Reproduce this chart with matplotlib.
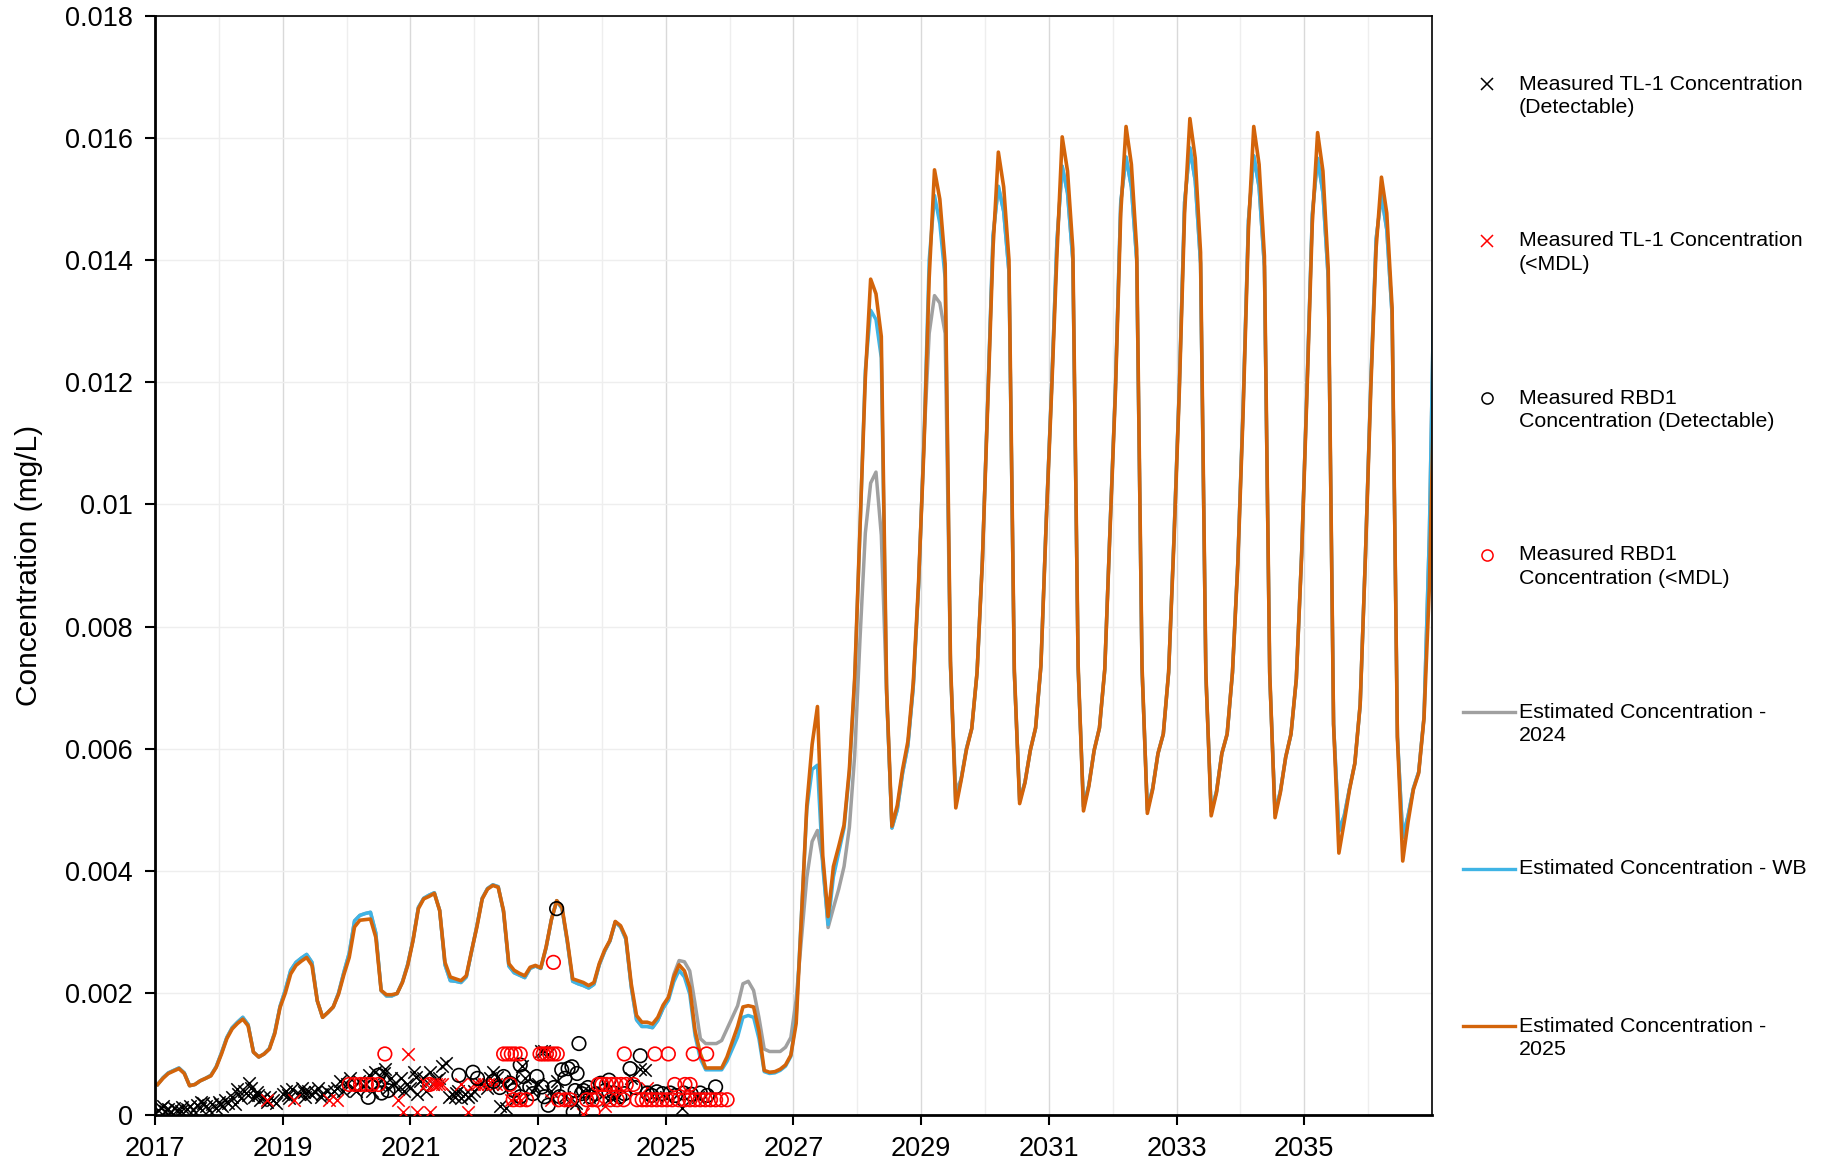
import matplotlib
matplotlib.use("Agg")
import matplotlib.pyplot as plt
from matplotlib.lines import Line2D
from matplotlib.ticker import FuncFormatter, MultipleLocator
import numpy as np

plt.rcParams['font.family'] = ['Liberation Sans', 'DejaVu Sans']

# ---------------- data (monthly values, Jan 2017 .. Jan 2037) ----------------
start_year = 2017

est_2025 = [
    0.00050, 0.00060, 0.00068, 0.00072, 0.00076, 0.00068, 0.00048, 0.00050, 0.00056, 0.00060, 0.00064, 0.00078,  # 2017
    0.00100, 0.00125, 0.00141, 0.00150, 0.00157, 0.00146, 0.00103, 0.00095, 0.00100, 0.00108, 0.00133, 0.00176,  # 2018
    0.00200, 0.00231, 0.00245, 0.00252, 0.00258, 0.00245, 0.00187, 0.00160, 0.00168, 0.00177, 0.00198, 0.00230,  # 2019
    0.00258, 0.00308, 0.00319, 0.00320, 0.00321, 0.00291, 0.00204, 0.00197, 0.00197, 0.00199, 0.00217, 0.00245,  # 2020
    0.00286, 0.00338, 0.00354, 0.00358, 0.00363, 0.00335, 0.00250, 0.00226, 0.00223, 0.00220, 0.00228, 0.00269,  # 2021
    0.00308, 0.00354, 0.00370, 0.00376, 0.00373, 0.00335, 0.00248, 0.00237, 0.00232, 0.00228, 0.00242, 0.00245,  # 2022
    0.00241, 0.00275, 0.00320, 0.00351, 0.00340, 0.00286, 0.00223, 0.00220, 0.00217, 0.00212, 0.00217, 0.00248,  # 2023
    0.00270, 0.00286, 0.00317, 0.00310, 0.00291, 0.00215, 0.00163, 0.00152, 0.00152, 0.00149, 0.00160, 0.00180,  # 2024
    0.00193, 0.00226, 0.00246, 0.00236, 0.00209, 0.00138, 0.00100, 0.00077, 0.00077, 0.00077, 0.00077, 0.00095,  # 2025
    0.00120, 0.00145, 0.00177, 0.00179, 0.00177, 0.00138, 0.00073, 0.00070, 0.00071, 0.00075, 0.00082, 0.00098,  # 2026
    0.00150, 0.00325, 0.00507, 0.00607, 0.00669, 0.00425, 0.00325, 0.00407, 0.00440, 0.00475, 0.00566, 0.00716,  # 2027
    0.00962, 0.01207, 0.01369, 0.01345, 0.01275, 0.00698, 0.00473, 0.00507, 0.00566, 0.00612, 0.00707, 0.00871,  # 2028
    0.01089, 0.01371, 0.01548, 0.01500, 0.01394, 0.00744, 0.00503, 0.00548, 0.00598, 0.00633, 0.00725, 0.00907,  # 2029
    0.01162, 0.01420, 0.01577, 0.01520, 0.01400, 0.00730, 0.00510, 0.00544, 0.00597, 0.00634, 0.00736, 0.00970,  # 2030
    0.01183, 0.01407, 0.01602, 0.01546, 0.01418, 0.00736, 0.00498, 0.00538, 0.00597, 0.00634, 0.00730, 0.00960,  # 2031
    0.01183, 0.01477, 0.01619, 0.01557, 0.01418, 0.00736, 0.00494, 0.00533, 0.00592, 0.00624, 0.00725, 0.00938,  # 2032
    0.01183, 0.01477, 0.01632, 0.01567, 0.01413, 0.00725, 0.00490, 0.00528, 0.00592, 0.00624, 0.00725, 0.00900,  # 2033
    0.01151, 0.01450, 0.01619, 0.01557, 0.01407, 0.00725, 0.00487, 0.00528, 0.00586, 0.00624, 0.00714, 0.00917,  # 2034
    0.01183, 0.01460, 0.01609, 0.01546, 0.01386, 0.00640, 0.00429, 0.00480, 0.00533, 0.00576, 0.00672, 0.00917,  # 2035
    0.01190, 0.01420, 0.01536, 0.01477, 0.01322, 0.00618, 0.00416, 0.00480, 0.00533, 0.00560, 0.00650, 0.00864,  # 2036
    0.01240,                                                                                                     # 2037
]

est_wb = [
    0.00050, 0.00061, 0.00069, 0.00073, 0.00077, 0.00069, 0.00048, 0.00050, 0.00056, 0.00060, 0.00065, 0.00079,  # 2017
    0.00102, 0.00127, 0.00143, 0.00152, 0.00160, 0.00148, 0.00103, 0.00095, 0.00100, 0.00109, 0.00135, 0.00178,  # 2018
    0.00205, 0.00237, 0.00250, 0.00257, 0.00263, 0.00250, 0.00187, 0.00160, 0.00168, 0.00177, 0.00200, 0.00234,  # 2019
    0.00265, 0.00318, 0.00327, 0.00330, 0.00332, 0.00298, 0.00204, 0.00195, 0.00195, 0.00199, 0.00218, 0.00247,  # 2020
    0.00287, 0.00340, 0.00355, 0.00360, 0.00364, 0.00335, 0.00246, 0.00220, 0.00219, 0.00217, 0.00226, 0.00268,  # 2021
    0.00310, 0.00355, 0.00371, 0.00377, 0.00374, 0.00333, 0.00244, 0.00233, 0.00229, 0.00225, 0.00240, 0.00244,  # 2022
    0.00240, 0.00274, 0.00320, 0.00351, 0.00338, 0.00283, 0.00219, 0.00215, 0.00212, 0.00208, 0.00214, 0.00246,  # 2023
    0.00268, 0.00285, 0.00316, 0.00308, 0.00288, 0.00210, 0.00156, 0.00145, 0.00145, 0.00143, 0.00155, 0.00175,  # 2024
    0.00188, 0.00218, 0.00237, 0.00226, 0.00198, 0.00130, 0.00092, 0.00074, 0.00074, 0.00074, 0.00074, 0.00088,  # 2025
    0.00108, 0.00128, 0.00160, 0.00163, 0.00160, 0.00125, 0.00071, 0.00068, 0.00069, 0.00073, 0.00080, 0.00096,  # 2026
    0.00160, 0.00330, 0.00500, 0.00566, 0.00573, 0.00407, 0.00312, 0.00390, 0.00430, 0.00470, 0.00560, 0.00712,  # 2027
    0.00960, 0.01220, 0.01318, 0.01303, 0.01240, 0.00690, 0.00470, 0.00500, 0.00560, 0.00605, 0.00700, 0.00865,  # 2028
    0.01100, 0.01400, 0.01506, 0.01460, 0.01370, 0.00735, 0.00510, 0.00550, 0.00600, 0.00633, 0.00725, 0.00910,  # 2029
    0.01170, 0.01440, 0.01521, 0.01480, 0.01380, 0.00725, 0.00515, 0.00545, 0.00597, 0.00634, 0.00736, 0.00975,  # 2030
    0.01190, 0.01430, 0.01554, 0.01510, 0.01400, 0.00730, 0.00505, 0.00540, 0.00597, 0.00634, 0.00730, 0.00965,  # 2031
    0.01190, 0.01495, 0.01569, 0.01520, 0.01400, 0.00730, 0.00500, 0.00535, 0.00592, 0.00624, 0.00725, 0.00945,  # 2032
    0.01190, 0.01495, 0.01584, 0.01530, 0.01395, 0.00720, 0.00497, 0.00530, 0.00592, 0.00624, 0.00725, 0.00905,  # 2033
    0.01160, 0.01465, 0.01571, 0.01520, 0.01390, 0.00720, 0.00495, 0.00530, 0.00586, 0.00624, 0.00714, 0.00920,  # 2034
    0.01190, 0.01475, 0.01567, 0.01510, 0.01370, 0.00640, 0.00465, 0.00490, 0.00535, 0.00576, 0.00672, 0.00920,  # 2035
    0.01200, 0.01435, 0.01506, 0.01450, 0.01310, 0.00620, 0.00455, 0.00490, 0.00535, 0.00562, 0.00652, 0.00950,  # 2036
    0.01420,                                                                                                     # 2037
]

est_2024 = [
    0.00050, 0.00061, 0.00069, 0.00073, 0.00077, 0.00069, 0.00048, 0.00050, 0.00056, 0.00060, 0.00065, 0.00079,  # 2017
    0.00102, 0.00127, 0.00143, 0.00152, 0.00160, 0.00148, 0.00103, 0.00095, 0.00100, 0.00109, 0.00135, 0.00178,  # 2018
    0.00205, 0.00237, 0.00250, 0.00257, 0.00263, 0.00250, 0.00187, 0.00160, 0.00168, 0.00177, 0.00200, 0.00234,  # 2019
    0.00265, 0.00318, 0.00327, 0.00330, 0.00332, 0.00298, 0.00204, 0.00195, 0.00195, 0.00199, 0.00218, 0.00247,  # 2020
    0.00287, 0.00340, 0.00355, 0.00360, 0.00364, 0.00335, 0.00246, 0.00220, 0.00219, 0.00217, 0.00226, 0.00268,  # 2021
    0.00310, 0.00355, 0.00371, 0.00377, 0.00374, 0.00333, 0.00244, 0.00233, 0.00229, 0.00225, 0.00240, 0.00244,  # 2022
    0.00240, 0.00274, 0.00320, 0.00351, 0.00338, 0.00283, 0.00219, 0.00215, 0.00212, 0.00208, 0.00214, 0.00246,  # 2023
    0.00268, 0.00285, 0.00316, 0.00308, 0.00288, 0.00210, 0.00156, 0.00145, 0.00145, 0.00143, 0.00155, 0.00175,  # 2024
    0.00190, 0.00230, 0.00253, 0.00251, 0.00236, 0.00182, 0.00125, 0.00117, 0.00117, 0.00117, 0.00122, 0.00141,  # 2025
    0.00160, 0.00179, 0.00215, 0.00219, 0.00204, 0.00160, 0.00108, 0.00104, 0.00104, 0.00104, 0.00111, 0.00127,  # 2026
    0.00189, 0.00289, 0.00389, 0.00448, 0.00466, 0.00416, 0.00307, 0.00339, 0.00370, 0.00407, 0.00471, 0.00589,  # 2027
    0.00780, 0.00953, 0.01035, 0.01053, 0.00950, 0.00690, 0.00470, 0.00500, 0.00560, 0.00605, 0.00700, 0.00865,  # 2028
    0.01100, 0.01280, 0.01342, 0.01330, 0.01280, 0.00735, 0.00530, 0.00550, 0.00600, 0.00633, 0.00725, 0.00910,  # 2029
    0.01170, 0.01440, 0.01521, 0.01480, 0.01380, 0.00725, 0.00515, 0.00545, 0.00597, 0.00634, 0.00736, 0.00975,  # 2030
    0.01190, 0.01430, 0.01554, 0.01510, 0.01400, 0.00730, 0.00505, 0.00540, 0.00597, 0.00634, 0.00730, 0.00965,  # 2031
    0.01190, 0.01495, 0.01569, 0.01520, 0.01400, 0.00730, 0.00500, 0.00535, 0.00592, 0.00624, 0.00725, 0.00945,  # 2032
    0.01190, 0.01495, 0.01584, 0.01530, 0.01395, 0.00720, 0.00497, 0.00530, 0.00592, 0.00624, 0.00725, 0.00905,  # 2033
    0.01160, 0.01465, 0.01571, 0.01520, 0.01390, 0.00720, 0.00495, 0.00530, 0.00586, 0.00624, 0.00714, 0.00920,  # 2034
    0.01190, 0.01475, 0.01567, 0.01510, 0.01370, 0.00640, 0.00465, 0.00490, 0.00535, 0.00576, 0.00672, 0.00920,  # 2035
    0.01200, 0.01435, 0.01506, 0.01450, 0.01310, 0.00620, 0.00455, 0.00490, 0.00535, 0.00562, 0.00652, 0.00950,  # 2036
    0.01420,                                                                                                     # 2037
]

# Measured TL-1 (detectable) – decimal year, mg/L
tl1_det_t = [2017.05, 2017.10, 2017.15, 2017.20, 2017.25, 2017.30, 2017.35, 2017.42, 2017.50,
             2017.55, 2017.60, 2017.65, 2017.70, 2017.75, 2017.80, 2017.85, 2017.90, 2017.95,
             2018.00, 2018.05, 2018.10, 2018.15, 2018.20, 2018.25, 2018.30, 2018.35, 2018.40,
             2018.45, 2018.50, 2018.55, 2018.60, 2018.65, 2018.70, 2018.75, 2018.80, 2018.85,
             2018.90, 2019.00, 2019.05, 2019.10, 2019.15, 2019.25, 2019.30, 2019.35, 2019.40,
             2019.45, 2019.50, 2019.55, 2019.60, 2019.70, 2019.75, 2019.85, 2019.90, 2019.95,
             2020.00, 2020.05, 2020.10, 2020.15, 2020.20, 2020.30, 2020.35, 2020.40, 2020.45,
             2020.50, 2020.55, 2020.60, 2020.65, 2020.70, 2020.75, 2020.80, 2020.85, 2020.90,
             2020.95, 2021.00, 2021.05, 2021.10, 2021.15, 2021.20, 2021.25, 2021.30, 2021.35,
             2021.45, 2021.50, 2021.55, 2021.60, 2021.65, 2021.70, 2021.75, 2021.80, 2021.85,
             2021.90, 2021.95, 2022.00, 2022.10, 2022.20, 2022.25, 2022.30, 2022.40, 2022.45,
             2022.50, 2022.60, 2022.75, 2022.80, 2022.90, 2023.00, 2023.05, 2023.10, 2023.15,
             2023.20, 2023.30, 2023.40, 2023.50, 2023.60, 2023.70, 2023.80, 2024.10, 2024.20,
             2024.45, 2024.60, 2024.67, 2025.00, 2025.25, 2025.50,
             2017.12, 2017.40, 2017.72, 2018.02, 2018.28, 2018.48, 2018.62, 2019.08, 2019.33,
             2019.62, 2019.80, 2020.25, 2020.58, 2021.08, 2021.40, 2021.72, 2022.35]
tl1_det_v = [0.00008, 0.00012, 0.00006, 0.00010, 0.00005, 0.00011, 0.00008, 0.00013, 0.00010,
             0.00015, 0.00009, 0.00017, 0.00012, 0.00020, 0.00014, 0.00008, 0.00018, 0.00012,
             0.00022, 0.00015, 0.00025, 0.00020, 0.00030, 0.00018, 0.00035, 0.00028, 0.00040,
             0.00032, 0.00045, 0.00030, 0.00038, 0.00025, 0.00030, 0.00022, 0.00030, 0.00025,
             0.00020, 0.00035, 0.00040, 0.00028, 0.00042, 0.00035, 0.00045, 0.00030, 0.00040,
             0.00035, 0.00038, 0.00045, 0.00030, 0.00040, 0.00035, 0.00045, 0.00055, 0.00040,
             0.00050, 0.00060, 0.00045, 0.00040, 0.00055, 0.00050, 0.00065, 0.00040, 0.00070,
             0.00050, 0.00060, 0.00075, 0.00045, 0.00060, 0.00050, 0.00042, 0.00060, 0.00040,
             0.00050, 0.00045, 0.00070, 0.00035, 0.00055, 0.00060, 0.00040, 0.00070, 0.00050,
             0.00060, 0.00080, 0.00085, 0.00030, 0.00035, 0.00030, 0.00040, 0.00028, 0.00035,
             0.00030, 0.00033, 0.00040, 0.00050, 0.00045, 0.00060, 0.00070, 0.00015, 0.00050,
             0.00012, 0.00055, 0.00080, 0.00060, 0.00040, 0.00050, 0.00105, 0.00105, 0.00100,
             0.00040, 0.00055, 0.00030, 0.00025, 0.00020, 0.00040, 0.00030, 0.00025, 0.00030,
             0.00060, 0.00076, 0.00074, 0.00030, 0.00012, 0.00030,
             0.00014, 0.00006, 0.00022, 0.00018, 0.00042, 0.00052, 0.00032, 0.00032, 0.00038,
             0.00034, 0.00040, 0.00048, 0.00068, 0.00062, 0.00058, 0.00036, 0.00062]

# Measured TL-1 (<MDL)
tl1_mdl_t = [2018.76, 2019.18, 2019.72, 2019.85, 2020.81, 2020.89, 2020.97, 2021.10, 2021.25,
             2021.30, 2021.35, 2021.40, 2021.45, 2021.50, 2021.80, 2021.90, 2022.00, 2022.05,
             2022.16, 2022.22, 2022.28, 2022.34, 2022.57, 2022.65, 2022.73, 2023.20, 2023.50,
             2023.70, 2024.05, 2024.70]
tl1_mdl_v = [0.00025, 0.00025, 0.00025, 0.00025, 0.00025, 0.00005, 0.00100, 0.00005, 0.00050,
             0.00005, 0.00050, 0.00050, 0.00050, 0.00050, 0.00050, 0.00005, 0.00050, 0.00050,
             0.00050, 0.00050, 0.00050, 0.00050, 0.00025, 0.00025, 0.00025, 0.00025, 0.00025,
             0.00002, 0.00015, 0.00045]

# Measured RBD1 (detectable)
rbd_det_t = [2020.34, 2020.50, 2020.55, 2020.65, 2021.76, 2021.98, 2022.05, 2022.46, 2022.56,
             2022.72, 2022.77, 2022.87, 2022.98, 2023.06, 2023.16, 2023.29, 2023.37, 2023.42,
             2023.47, 2023.53, 2023.61, 2023.64, 2023.55, 2023.71, 2023.82, 2023.98, 2024.11,
             2024.19, 2024.44, 2024.60, 2024.71, 2024.86, 2025.07, 2025.28, 2025.54, 2025.78,
             2022.72, 2022.62, 2022.92, 2023.10, 2023.25, 2023.34, 2023.58, 2023.68, 2023.78,
             2023.90, 2024.05, 2024.28, 2024.35, 2024.52, 2024.78, 2024.95, 2025.15, 2025.40,
             2025.65, 2022.40, 2022.30]
rbd_det_v = [0.00029, 0.00065, 0.00036, 0.00040, 0.00065, 0.00070, 0.00060, 0.00063, 0.00052,
             0.00082, 0.00063, 0.00046, 0.00063, 0.00046, 0.00016, 0.00338, 0.00074, 0.00060,
             0.00076, 0.00079, 0.00068, 0.00117, 0.00005, 0.00040, 0.00030, 0.00052, 0.00057,
             0.00036, 0.00076, 0.00097, 0.00036, 0.00038, 0.00036, 0.00036, 0.00036, 0.00046,
             0.00030, 0.00040, 0.00035, 0.00030, 0.00045, 0.00030, 0.00040, 0.00035, 0.00045,
             0.00035, 0.00040, 0.00030, 0.00035, 0.00045, 0.00032, 0.00035, 0.00032, 0.00034,
             0.00032, 0.00045, 0.00055]

# Measured RBD1 (<MDL)
rbd_mdl_t = [2020.60, 2022.46, 2022.52, 2022.58, 2022.64, 2022.72, 2023.03, 2023.08, 2023.13,
             2023.18, 2023.24, 2023.30, 2024.35, 2024.83, 2025.04, 2025.43, 2025.64,
             2020.04, 2020.13, 2020.22, 2020.31, 2020.40, 2020.50, 2021.30, 2022.56, 2023.94,
             2024.00, 2024.07, 2024.15, 2024.22, 2024.30, 2024.38, 2024.49, 2025.14, 2025.30,
             2025.38,
             2022.61, 2022.72, 2022.82, 2023.32, 2023.42, 2023.50, 2023.76, 2023.85, 2023.92,
             2024.13, 2024.24, 2024.34, 2024.55, 2024.63, 2024.70, 2024.78, 2024.86, 2024.94,
             2025.02, 2025.10, 2025.20, 2025.30, 2025.38, 2025.46, 2025.54, 2025.62, 2025.70,
             2025.78, 2025.87, 2025.96,
             2023.24, 2023.86]
rbd_mdl_v = [0.00100, 0.00100, 0.00100, 0.00100, 0.00100, 0.00100, 0.00100, 0.00100, 0.00100,
             0.00100, 0.00100, 0.00100, 0.00100, 0.00100, 0.00100, 0.00100, 0.00100,
             0.00050, 0.00050, 0.00050, 0.00050, 0.00050, 0.00050, 0.00050, 0.00050, 0.00050,
             0.00050, 0.00050, 0.00050, 0.00050, 0.00050, 0.00050, 0.00050, 0.00050, 0.00050,
             0.00050,
             0.00025, 0.00025, 0.00025, 0.00025, 0.00025, 0.00025, 0.00025, 0.00025, 0.00025,
             0.00025, 0.00025, 0.00025, 0.00025, 0.00025, 0.00025, 0.00025, 0.00025, 0.00025,
             0.00025, 0.00025, 0.00025, 0.00025, 0.00025, 0.00025, 0.00025, 0.00025, 0.00025,
             0.00025, 0.00025, 0.00025,
             0.00250, 0.00005]

labels = ["Measured TL-1 Concentration\n(Detectable)",
          "Measured TL-1 Concentration\n(<MDL)",
          "Measured RBD1\nConcentration (Detectable)",
          "Measured RBD1\nConcentration (<MDL)",
          "Estimated Concentration -\n2024",
          "Estimated Concentration - WB",
          "Estimated Concentration -\n2025"]

# ---------------- figure ----------------
C_GRAY = '#A0A0A0'
C_BLUE = '#3FB4E5'
C_ORANGE = '#D3640A'
W, H = 1832, 1162

fig = plt.figure(figsize=(W / 100, H / 100), dpi=100)
ax = fig.add_axes([155 / W, 1 - 1115 / H, (1432 - 155) / W, (1115 - 16) / H])

t_month = start_year + (np.arange(len(est_2025)) + 0.5) / 12.0

ax.plot(t_month, est_2024, color=C_GRAY, lw=2.5, zorder=2)
ax.plot(t_month, est_wb, color=C_BLUE, lw=2.5, zorder=2.1)
ax.plot(t_month, est_2025, color=C_ORANGE, lw=2.6, zorder=2.2)

ax.scatter(tl1_det_t, tl1_det_v, marker='x', s=80, c='black', linewidths=1.1, zorder=3)
ax.scatter(tl1_mdl_t, tl1_mdl_v, marker='x', s=80, c='#FF0000', linewidths=1.1, zorder=3)
ax.scatter(rbd_det_t, rbd_det_v, marker='o', s=95, facecolors='none', edgecolors='black', linewidths=1.2, zorder=3)
ax.scatter(rbd_mdl_t, rbd_mdl_v, marker='o', s=95, facecolors='none', edgecolors='#FF0000', linewidths=1.2, zorder=3)

ax.set_xlim(2017, 2037)
ax.set_ylim(0, 0.018)

ax.xaxis.set_minor_locator(MultipleLocator(1))
ax.set_xticks(list(range(2017, 2037, 2)))
ax.xaxis.set_major_formatter(FuncFormatter(lambda v, p: '%d' % round(v)))
ax.yaxis.set_major_locator(MultipleLocator(0.002))
ax.yaxis.set_major_formatter(FuncFormatter(lambda v, p: '%g' % round(v, 4)))

ax.grid(which='major', axis='x', color='#D9D9D9', lw=1.0, zorder=0)
ax.grid(which='minor', axis='x', color='#EEEEEE', lw=1.0, zorder=0)
ax.grid(which='major', axis='y', color='#EEEEEE', lw=1.0, zorder=0)
ax.set_axisbelow(True)

ax.tick_params(axis='both', which='major', direction='out', length=7, width=1.5,
               labelsize=19.5, colors='black')
ax.tick_params(axis='y', which='major', pad=9)
ax.tick_params(axis='x', which='major', pad=8)
ax.tick_params(axis='x', which='minor', length=0)

for side in ['left', 'bottom']:
    ax.spines[side].set_linewidth(2.0)
for side in ['top', 'right']:
    ax.spines[side].set_linewidth(1.2)

ax.set_ylabel("Concentration (mg/L)", fontsize=21.5, labelpad=16)

# ---------------- legend (handles aligned with first text line) ----------------
handle_specs = [
    dict(marker='x', color='black'),
    dict(marker='x', color='#FF0000'),
    dict(marker='o', color='black'),
    dict(marker='o', color='#FF0000'),
    dict(line=C_GRAY),
    dict(line=C_BLUE),
    dict(line=C_ORANGE),
]
first_line_y = 84      # px from top of figure
entry_step = 157       # px between entries
line_step = 23.5       # px between text lines
text_x = 1519
for k, (spec, lab) in enumerate(zip(handle_specs, labels)):
    yk = first_line_y + k * entry_step
    yf = 1 - yk / H
    if 'line' in spec:
        fig.add_artist(Line2D([1463 / W, 1515 / W], [yf, yf], transform=fig.transFigure,
                              color=spec['line'], lw=2.4))
    else:
        fig.add_artist(Line2D([1487 / W], [yf], transform=fig.transFigure, linestyle='None',
                              marker=spec['marker'], color=spec['color'], markerfacecolor='none',
                              markersize=8, markeredgewidth=1.1))
    for j, part in enumerate(lab.split('\n')):
        fig.text(text_x / W, 1 - (yk + j * line_step) / H, part, fontsize=15.4,
                 ha='left', va='center', color='black')

fig.savefig('out.png', dpi=100)
